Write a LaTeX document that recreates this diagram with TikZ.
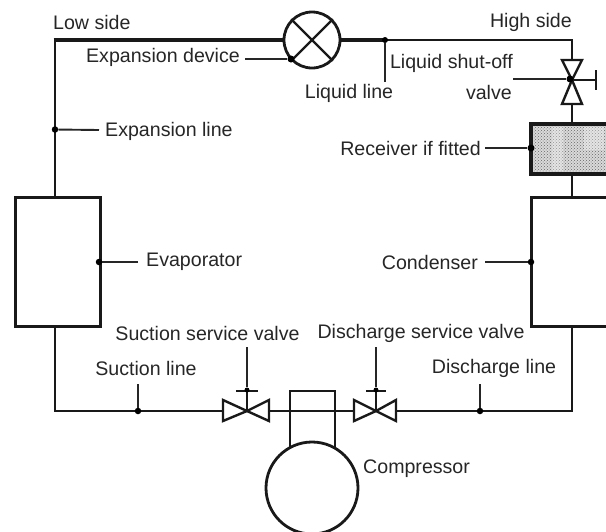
\documentclass[tikz,border=0pt]{standalone}
\usepackage{fontspec}
\setmainfont{Liberation Sans}
\usetikzlibrary{patterns,calc}
\tikzset{
  lbl/.style={inner sep=0pt,text=black!85,font=\fontsize{19.6}{23}\selectfont},
  pipe/.style={line width=2.4pt,black!90},
  heavy/.style={line width=3.2pt,black!90},
  lead/.style={line width=1.9pt,black!85},
  box/.style={draw=black!90,line width=3pt,fill=white,inner sep=0pt,rectangle},
  ring/.style={draw=black!90,line width=2.8pt,fill=white,inner sep=0pt,circle},
  valveshape/.style={draw=black!90,line width=2.4pt,fill=white,line join=miter},
  dot/.style={circle,fill=black,inner sep=0pt,minimum size=7pt},
}
\begin{document}
\begin{tikzpicture}[x=1pt,y=-1pt]
\useasboundingbox (0,0) rectangle (606,531);
\clip (0,0) rectangle (606,531);
% pipework corners
\coordinate (tl) at (55,40);
\coordinate (tr) at (572,40);
\coordinate (bl) at (55,411);
\coordinate (br) at (572,411);
\coordinate (jliq) at (385,40);
\node[ring,minimum size=56pt] (exp) at (312,40) {};
\node[box,minimum width=85pt,minimum height=129pt] (evap) at (57.5,261.5) {};
\node[box,minimum width=120pt,minimum height=129pt] (cond) at (591,261.5) {};
\node[box,outer sep=0pt,line width=3pt,minimum width=120pt,minimum height=50pt,preaction={fill=black!15},pattern=crosshatch dots,pattern color=black!60] (recv) at (591,149) {};
\fill[white,opacity=.3] (552,127) rectangle (563,171);
\fill[white,opacity=.3] (584,127) rectangle (604,150);
\draw[black!90,line width=3.6pt] (recv.north west) rectangle (recv.south east);
\coordinate (lsv) at (572,80);
\coordinate (ssv) at (247,411);
\coordinate (dsv) at (376,411);
% pipes
\draw[pipe,line width=2.6pt] (evap.north -| tl) -- (tl);
\draw[heavy] ($(tl)+(-1.3,0)$) -- (exp.west);
\draw[heavy] (exp.east) -- (jliq);
\draw[pipe] (jliq) -- (tr) -- (lsv);
\draw[pipe] (lsv) -- (recv.north -| tr);
\draw[pipe] (recv.south -| tr) -- (cond.north -| tr);
\draw[pipe] (evap.south -| bl) -- (bl) -- (ssv) -- (dsv) -- (br) -- (cond.south -| br);
% expansion device cross
\draw[line width=2.4pt,black!90] (exp.north west) -- (exp.south east) (exp.north east) -- (exp.south west);
% compressor
\node[box,fill=none,line width=2.4pt,minimum width=45pt,minimum height=56pt] (crank) at (312.5,419) {};
\node[ring,minimum size=92pt] (comp) at (312,488) {};
% liquid shut-off valve
\draw[valveshape] (lsv) -- (562,60) -- (582,60) -- cycle;
\draw[valveshape] (lsv) -- (562,104) -- (582,104) -- cycle;
\coordinate (lsvend) at (596,80);
\draw[pipe] (lsv) -- (lsvend);
\draw[pipe] ($(lsvend)+(0,-10)$) -- ($(lsvend)+(0,10)$);
% suction service valve
\draw[valveshape] (ssv) -- (223,400) -- (223,421) -- cycle;
\draw[valveshape] (ssv) -- (269,400) -- (269,421) -- cycle;
\coordinate (ssvt) at (247,391);
\draw[pipe] (ssv) -- (ssvt);
\draw[pipe] ($(ssvt)+(-11,0)$) -- ($(ssvt)+(11,0)$);
% discharge service valve
\draw[valveshape] (dsv) -- (354,400) -- (354,421) -- cycle;
\draw[valveshape] (dsv) -- (396,400) -- (396,421) -- cycle;
\coordinate (dsvt) at (376,391);
\draw[pipe] (dsv) -- (dsvt);
\draw[pipe] ($(dsvt)+(-10,0)$) -- ($(dsvt)+(10,0)$);
% dots
\node[dot] (dexp) at (291,59) {};
\node[dot,minimum size=6pt] (dliq) at (385,40) {};
\node[dot] (dlsv) at (570,79) {};
\node[dot] (drec) at (531,148) {};
\node[dot,minimum size=6.5pt] (dexl) at (55,129.5) {};
\node[dot,minimum size=6.5pt] (deva) at (99,262) {};
\node[dot,minimum size=6.5pt] (dcon) at (531,262) {};
\node[dot,minimum size=6.5pt] (dsuc) at (138,411) {};
\node[dot,minimum size=6.5pt] (ddis) at (480,411) {};
\node[dot,minimum size=5pt] (dss) at (247,390) {};
\node[dot,minimum size=5pt] (dds) at (376,390) {};
% labels
\node[lbl,anchor=west] (tlow) at (53,22) {Low side};
\node[lbl,anchor=east] (thigh) at (572,22) {High side};
\node[lbl,anchor=east] (texp) at (240,57) {Expansion device};
\node[lbl,anchor=center] (tliq) at (349,93) {Liquid line};
\node[lbl,anchor=east,align=right] (tlsv) at (513,63) {Liquid shut-off};
\node[lbl,anchor=east] (tlsv2) at (512,92) {valve};
\node[lbl,anchor=east] (trec) at (481,148) {Receiver if fitted};
\node[lbl,anchor=west] (texl) at (105,131) {Expansion line};
\node[lbl,anchor=west] (teva) at (146,262) {Evaporator};
\node[lbl,anchor=east] (tcon) at (478,262) {Condenser};
\node[lbl,anchor=center] (tssv) at (207.5,333) {Suction service valve};
\node[lbl,anchor=center] (tdsv) at (421,333) {Discharge service valve};
\node[lbl,anchor=center] (tsuc) at (146,368) {Suction line};
\node[lbl,anchor=center] (tdis) at (494,368) {Discharge line};
\node[lbl,anchor=west] (tcom) at (363,469) {Compressor};
% leaders
\coordinate (lexp) at (245,59);
\coordinate (lliq) at (385,82);
\coordinate (llsv) at (513,79);
\coordinate (lrec) at (485,148);
\coordinate (lexl) at (99,130);
\coordinate (leva) at (138,262);
\coordinate (lcon) at (485,262);
\coordinate (lsuc) at (138,384);
\coordinate (ldis) at (480,384);
\coordinate (lssv) at (247,347);
\coordinate (ldsv) at (376,347);
\draw[lead] (lexp) -- (dexp);
\draw[lead] (lliq) -- (dliq);
\draw[lead] (llsv) -- (dlsv);
\draw[lead] (lrec) -- (drec);
\draw[lead] (lexl) -- (dexl);
\draw[lead] (leva) -- (deva);
\draw[lead] (lcon) -- (dcon);
\draw[lead] (lsuc) -- (dsuc);
\draw[lead] (ldis) -- (ddis);
\draw[lead] (lssv) -- (dss);
\draw[lead] (ldsv) -- (dds);
\end{tikzpicture}
\end{document}
